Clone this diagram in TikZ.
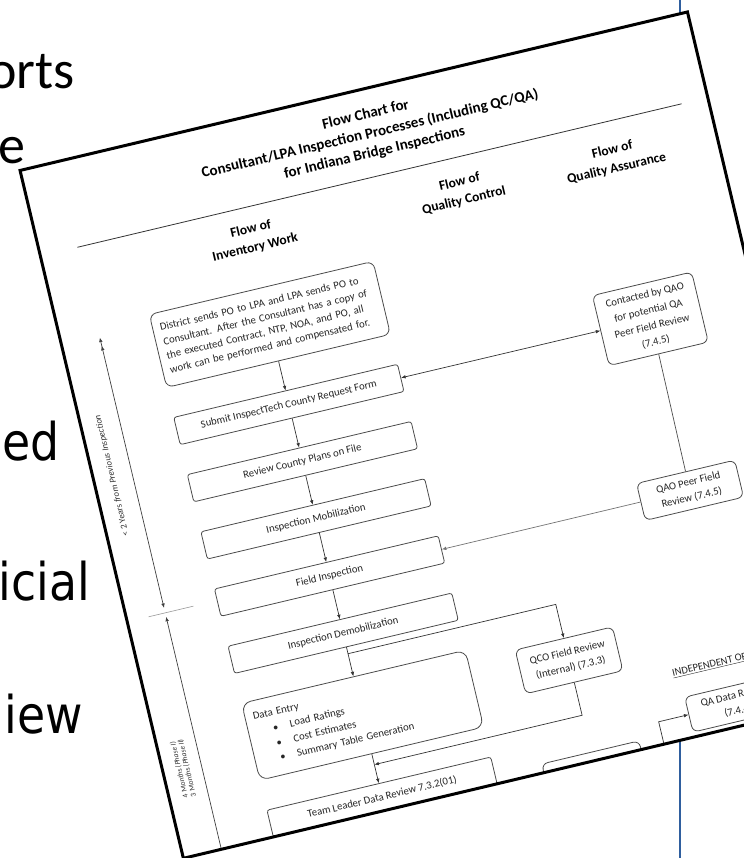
\documentclass[tikz,border=0pt]{standalone}
\usepackage{fontspec}
\setmainfont{Carlito}
\newfontfamily\slidesans{DejaVu Sans}[FakeStretch=0.88]
\usetikzlibrary{positioning,arrows.meta}
\definecolor{slideblue}{RGB}{47,94,158}

\begin{document}
\begin{tikzpicture}[
  x=1bp, y=-1bp,
  slideword/.style={anchor=base east, inner sep=0pt, text=black},
  block/.style={rectangle, draw=black!70, line width=0.8bp, rounded corners=2.5bp,
    minimum width=230bp, minimum height=28bp, inner sep=3bp, text=black!85,
    font=\fontsize{10.7bp}{14.4bp}\selectfont},
  qabox/.style={block, rounded corners=6bp, minimum width=101bp, align=center,
    font=\fontsize{10.7bp}{15.4bp}\selectfont},
  colhead/.style={align=center, text=black, font=\bfseries\fontsize{13.5bp}{19bp}\selectfont},
  axislabel/.style={rotate=90, align=center, text=black!80},
  flow/.style={-{Latex[length=4.5bp,width=3.6bp]}, draw=black!80, line width=0.7bp},
  node distance=30bp
]
\useasboundingbox (0,0) rectangle (744,858);

% slide behind the sheet
\draw[slideblue, line width=2.2bp] (680,0) -- (680,858);
\node[slideword, font=\fontsize{54bp}{54bp}\selectfont] (wordA) at (75,88) {orts};
\node[slideword, font=\fontsize{54bp}{54bp}\selectfont] (wordB) at (26,163) {e};
\node[slideword, font=\slidesans\fontsize{52bp}{52bp}\selectfont] (wordC) at (60,460) {ed};
\node[slideword, font=\slidesans\fontsize{52bp}{52bp}\selectfont] (wordD) at (90,600) {icial};
\node[slideword, font=\slidesans\fontsize{52bp}{52bp}\selectfont] (wordE) at (83,733) {iew};

% the rotated sheet
\begin{scope}[shift={(22,170)}, rotate=13.36, transform shape]
\fill[white] (-2,0) rectangle (684,707);
\begin{scope}
\clip (-2,0) rectangle (684,707);

\node[align=center, font=\bfseries\fontsize{15bp}{19.5bp}\selectfont] (title) at (347,45.5)
  {Flow Chart for\\Consultant/LPA Inspection Processes (Including QC/QA)\\for Indiana Bridge Inspections};
\draw[black!80, line width=0.8bp] (36,88) -- (657,88);

\node[colhead] (headInv) at (209,120) {Flow of\\Inventory Work};
\node[colhead] (headQC) at (423,122.5) {Flow of\\Quality Control};
\node[colhead] (headQA) at (579,126.5) {Flow of\\Quality Assurance};

% inventory work column
\node[block, rounded corners=7bp, minimum height=75bp, align=left, text width=215bp] (dist) at (205.5,207.5)
  {District sends PO to LPA and LPA sends PO to\\Consultant. After the Consultant has a copy of\\the executed Contract, NTP, NOA, and PO, all\\work can be performed and compensated for.};
\node[block, below=of dist] (submit) {Submit InspectTech County Request Form};
\node[block, below=of submit] (plans) {Review County Plans on File};
\node[block, below=of plans] (mobil) {Inspection Mobilization};
\node[block, below=of mobil] (field) {Field Inspection};
\node[block, below=of field] (demob) {Inspection Demobilization};
\node[block, rounded corners=9bp, below=of demob, minimum height=79bp, align=left, text width=214bp,
  font=\fontsize{10.7bp}{15.4bp}\selectfont] (entry)
  {Data Entry\\
   \hspace*{17bp}\textbullet\hspace{12bp}Load Ratings\\
   \hspace*{17bp}\textbullet\hspace{12bp}Cost Estimates\\
   \hspace*{17bp}\textbullet\hspace{12bp}Summary Table Generation};
\node[block, below=of entry] (leader) {Team Leader Data Review 7.3.2(01)};

% quality control column
\node[qabox, minimum width=100bp, minimum height=45bp] (qcfield) at (419,603.5) {QCO Field Review\\(Internal) (7.3.3)};
\node[qabox, minimum width=100bp, minimum height=45bp, text depth=15bp] (qcoffice) at (418.5,720.5) {QCO Office Review};

% quality assurance column
\node[qabox, minimum width=102bp, minimum height=72bp, font=\fontsize{10.7bp}{16bp}\selectfont] (contact) at (577,290)
  {Contacted by QAO\\for potential QA\\Peer Field Review\\(7.4.5)};
\node[qabox, minimum height=38bp] (peer) at (576,466) {QAO Peer Field\\Review (7.4.5)};
\node[anchor=west, text=black!85, font=\fontsize{10.5bp}{12bp}\selectfont] (indep) at (513,641) {\underline{INDEPENDENT OF}};
\node[qabox, minimum width=98bp, minimum height=36bp] (qadata) at (572,684) {QA Data Review\\(7.4.4)};

% Arrows
\draw[flow] (dist) -- (submit);
\draw[flow] (submit) -- (plans);
\draw[flow] (plans) -- (mobil);
\draw[flow] (mobil) -- (field);
\draw[flow] (field) -- (demob);
\draw[flow] (demob) -- (entry);
\draw[flow] (entry) -- (leader);
\coordinate (leaderOut) at (205.5,715);
\draw[black!80, line width=0.7bp] (leader.south) -- (leaderOut);

\draw[{Latex[length=4.5bp,width=3.6bp]}-{Latex[length=4.5bp,width=3.6bp]}, draw=black!80, line width=0.7bp]
  (submit.east) -- (contact.west);
\draw[black!70, line width=0.7bp] (contact.south) -- (peer.north);
\draw[flow, draw=black!55] (peer.west) -- (field.east);

\coordinate (split) at (205.5,546);
\coordinate (splitR) at (419,546);
\draw[flow] (split) -- (splitR) -- (qcfield.north);
\coordinate (backR) at (419,660);
\coordinate (join) at (205.5,660);
\draw[flow] (qcfield.south) -- (backR) -- (join);

\coordinate (qaIn) at (492,715);
\coordinate (qaBend) at (492,684);
\draw[flow] (qaIn) -- (qaBend) -- (qadata.west);

% time spans on the left
\coordinate (spanTop) at (37,181);
\coordinate (spanMid) at (37,459);
\coordinate (spanLow) at (37,468);
\coordinate (spanEnd) at (37,715);
\coordinate (tickL) at (20,464);
\coordinate (tickR) at (66,464);
\draw[{Latex[length=4.5bp,width=3.6bp]}-{Latex[length=4.5bp,width=3.6bp,sep=4bp]Latex[length=4.5bp,width=3.6bp]},
  draw=black!75, line width=0.7bp] (spanMid) -- (spanTop);
\draw[{Latex[length=4.5bp,width=3.6bp]}-, draw=black!75, line width=0.7bp] (spanLow) -- (spanEnd);
\draw[black!40, line width=0.6bp] (tickL) -- (tickR);
\node[axislabel, font=\fontsize{9bp}{10bp}\selectfont] (spanA) at (17,318) {< 2 Years \textit{from Previous Inspection}};
\node[axislabel, font=\fontsize{7.5bp}{8bp}\selectfont] (spanB) at (18.5,620) {4 Months \textit{(Phase I)}\\3 Months \textit{(Phase II)}};
\end{scope}
\draw[line width=3bp] (-2,0) rectangle (684,707);
\end{scope}
\end{tikzpicture}
\end{document}
